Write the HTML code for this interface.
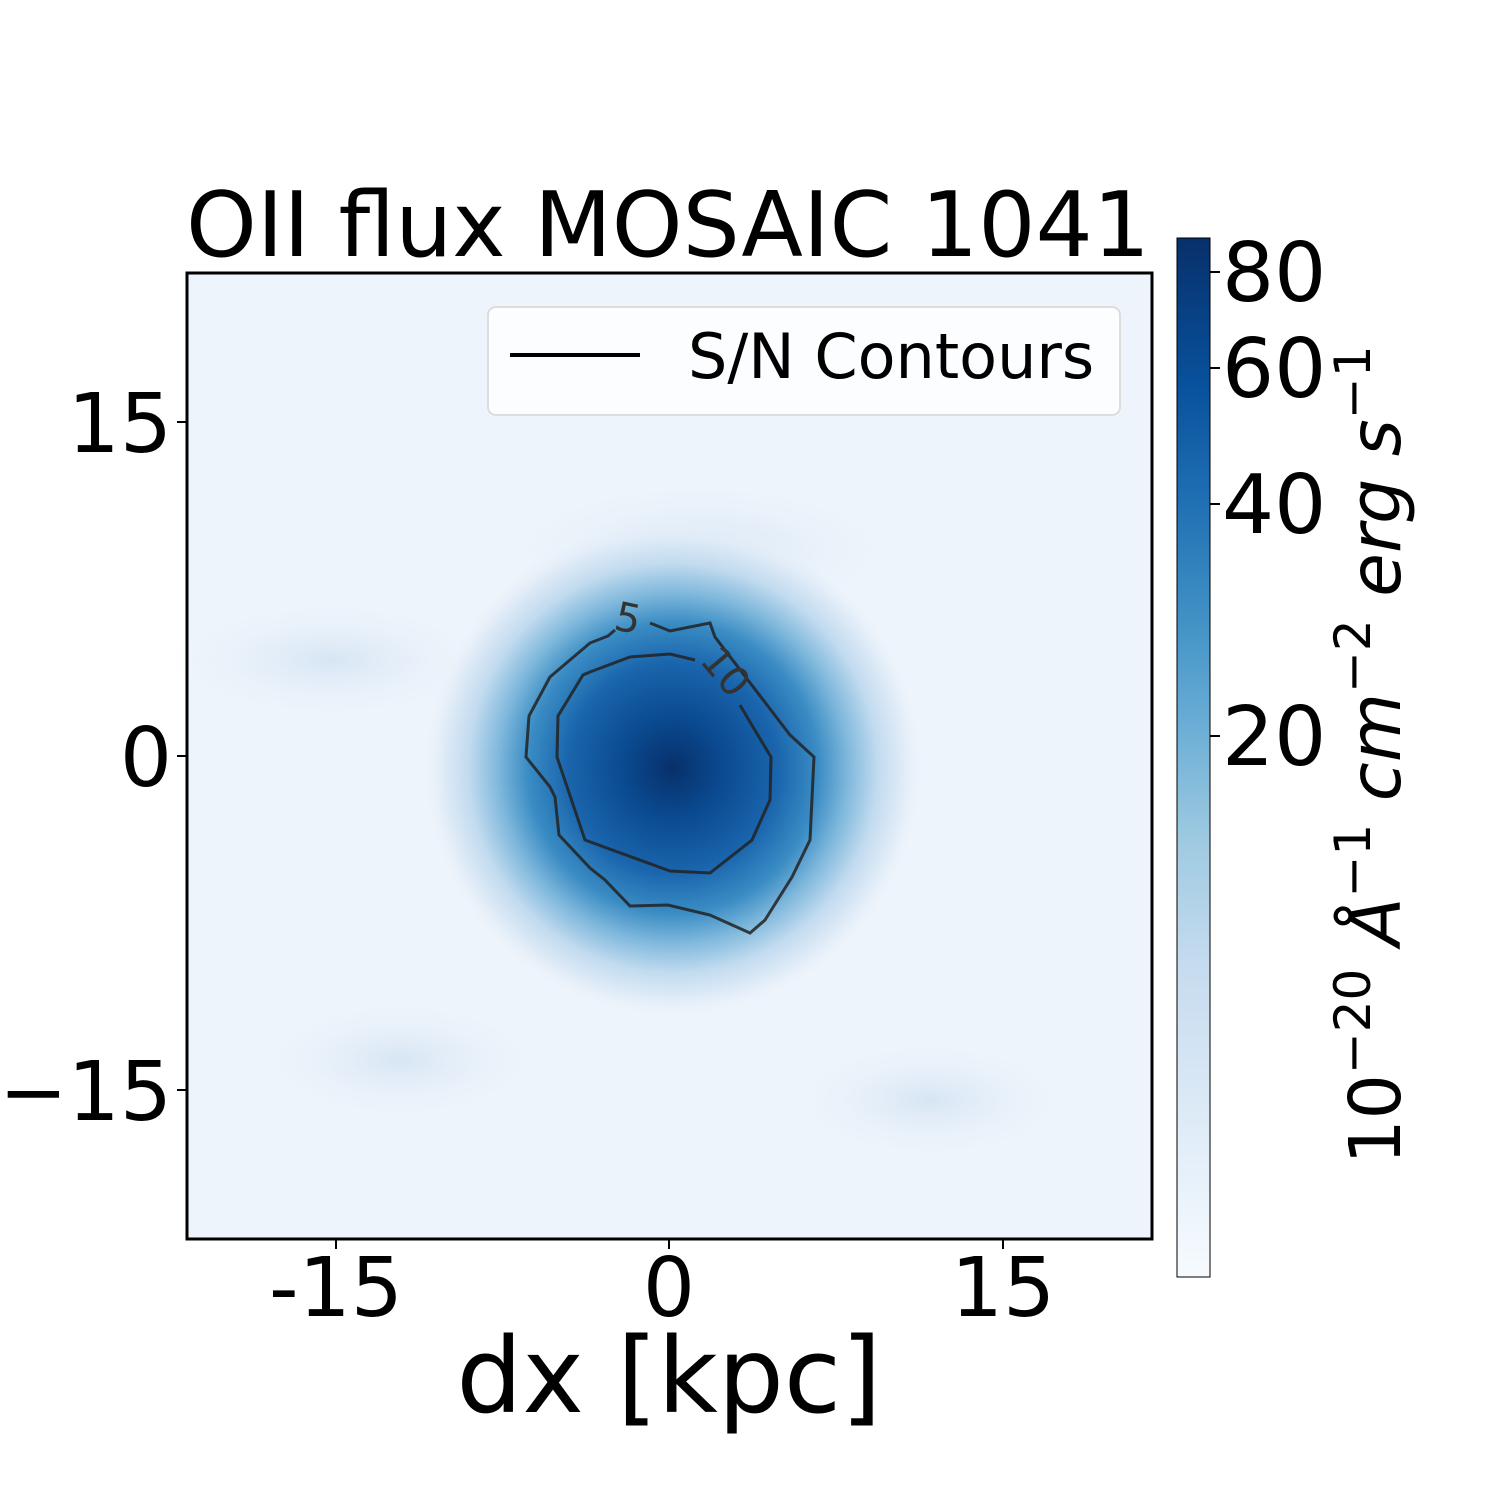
<!DOCTYPE html>
<html><head><style>
body{margin:0;background:#fff;width:1500px;height:1500px;overflow:hidden;font-family:"DejaVu Sans","Liberation Sans",sans-serif;}
</style></head><body>
<svg width="1500" height="1500" xmlns="http://www.w3.org/2000/svg" font-family="DejaVu Sans, Liberation Sans, sans-serif">
<defs>
<radialGradient id="blob" cx="673" cy="768" r="250" gradientUnits="userSpaceOnUse">
<stop offset="0" stop-color="#08306b"/>
<stop offset="0.2" stop-color="#0a4a90"/>
<stop offset="0.42" stop-color="#1a65ad"/>
<stop offset="0.58" stop-color="#3a8cc4"/>
<stop offset="0.7" stop-color="#7fb8dc"/>
<stop offset="0.82" stop-color="#c2dbef"/>
<stop offset="0.92" stop-color="#dfebf7"/>
<stop offset="1" stop-color="#eaf2fb" stop-opacity="0"/>
</radialGradient>
<radialGradient id="soft" cx="0.5" cy="0.5" r="0.5">
<stop offset="0" stop-color="#d6e5f4"/>
<stop offset="1" stop-color="#eaf2fb" stop-opacity="0"/>
</radialGradient>
<linearGradient id="cb" x1="0" y1="1" x2="0" y2="0">
<stop offset="0" stop-color="#f7fbff"/>
<stop offset="0.15" stop-color="#deebf7"/>
<stop offset="0.3" stop-color="#c6dbef"/>
<stop offset="0.42" stop-color="#9ecae1"/>
<stop offset="0.53" stop-color="#6baed6"/>
<stop offset="0.63" stop-color="#4292c6"/>
<stop offset="0.74" stop-color="#2171b5"/>
<stop offset="0.86" stop-color="#08519c"/>
<stop offset="1" stop-color="#08306b"/>
</linearGradient>
</defs>
<text x="668" y="256" font-size="90" text-anchor="middle">OII flux MOSAIC 1041</text>
<rect x="187" y="273" width="965" height="966" fill="#eef4fb"/>
<ellipse cx="330" cy="660" rx="160" ry="60" fill="url(#soft)"/>
<ellipse cx="930" cy="1100" rx="140" ry="60" fill="url(#soft)"/>
<ellipse cx="400" cy="1060" rx="140" ry="60" fill="url(#soft)"/>
<ellipse cx="700" cy="550" rx="200" ry="70" fill="url(#soft)"/>
<ellipse cx="673" cy="768" rx="260" ry="270" fill="url(#blob)"/>
<g fill="none" stroke="#222" stroke-width="3" stroke-opacity="0.85">
<polyline points="650,623 670,631 710,623 715,637 790,735 814,757 810,840 792,877 765,920 750,933 710,915 668,905 630,906 605,880 590,868 559,835 555,797 550,787 526,757 529,716 550,677 590,643 608,636 615,630"/>
<polyline points="695,660 670,654 630,657 590,672 583,675 558,716 557,757 585,840 670,871 710,873 752,840 770,800 771,757 750,722 740,705"/>
</g>
<text x="628" y="632" font-size="40" fill="#333" text-anchor="middle" transform="rotate(12 628 618)">5</text>
<text x="725" y="685" font-size="40" fill="#333" text-anchor="middle" transform="rotate(50 725 672)">10</text>
<rect x="187" y="273" width="965" height="966" fill="none" stroke="#000" stroke-width="3"/>
<rect x="488" y="307" width="632" height="108" rx="8" fill="#fff" fill-opacity="0.8" stroke="#ddd" stroke-width="2"/>
<line x1="510" y1="355" x2="640" y2="355" stroke="#000" stroke-width="4"/>
<text x="688" y="378" font-size="62">S/N Contours</text>
<g stroke="#000" stroke-width="2">
<line x1="336" y1="1239" x2="336" y2="1249"/><line x1="669" y1="1239" x2="669" y2="1249"/><line x1="1003" y1="1239" x2="1003" y2="1249"/>
<line x1="177" y1="422" x2="187" y2="422"/><line x1="177" y1="756" x2="187" y2="756"/><line x1="177" y1="1090" x2="187" y2="1090"/>
</g>
<g font-size="82" text-anchor="middle">
<text x="336" y="1316">-15</text><text x="669" y="1316">0</text><text x="1003" y="1316">15</text>
</g>
<g font-size="82" text-anchor="end">
<text x="172" y="452">15</text><text x="172" y="786">0</text><text x="172" y="1120">−15</text>
</g>
<text x="669" y="1412" font-size="104" text-anchor="middle">dx [kpc]</text>
<rect x="1177" y="238" width="33" height="1039" fill="url(#cb)" stroke="#000" stroke-width="1"/>
<g stroke="#000" stroke-width="2">
<line x1="1210" y1="272" x2="1220" y2="272"/><line x1="1210" y1="368" x2="1220" y2="368"/><line x1="1210" y1="504" x2="1220" y2="504"/><line x1="1210" y1="736" x2="1220" y2="736"/>
</g>
<g font-size="82">
<text x="1222" y="301">80</text><text x="1222" y="397">60</text><text x="1222" y="533">40</text><text x="1222" y="765">20</text>
</g>
<text transform="translate(1400 755) rotate(-90)" font-size="71" text-anchor="middle">10<tspan dy="-30" font-size="50">−20</tspan><tspan dy="30" font-style="italic"> Å</tspan><tspan dy="-30" font-size="50">−1</tspan><tspan dy="30" font-style="italic"> cm</tspan><tspan dy="-30" font-size="50">−2</tspan><tspan dy="30" font-style="italic"> erg s</tspan><tspan dy="-30" font-size="50">−1</tspan></text>
</svg>
</body></html>
